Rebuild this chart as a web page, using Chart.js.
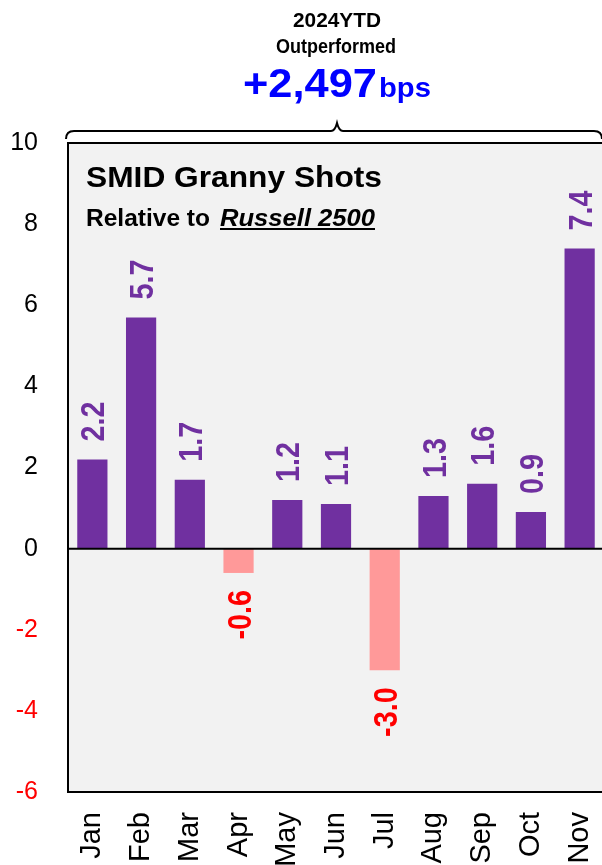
<!DOCTYPE html>
<html>
<head>
<meta charset="utf-8">
<script src="https://cdn.jsdelivr.net/npm/chart.js@4/dist/chart.umd.min.js"></script>
<style>
html,body{margin:0;padding:0;background:#fff;overflow:hidden;width:602px;height:865px;}
canvas{display:block;}
</style>
</head>
<body>
<canvas id="c" width="604" height="865"></canvas>
<script>
const months = ['Jan','Feb','Mar','Apr','May','Jun','Jul','Aug','Sep','Oct','Nov'];
const relativeReturn = [2.2, 5.7, 1.7, -0.6, 1.2, 1.1, -3.0, 1.3, 1.6, 0.9, 7.4];
const yTicks = [10, 8, 6, 4, 2, 0, -2, -4, -6];
const headline = ['2024YTD', 'Outperformed', '+2,497', 'bps'];
const chartTitle = 'SMID Granny Shots';
const subtitle = ['Relative to', 'Russell 2500'];

const PURPLE = '#7030A0', PINK = '#FF9999', RED = '#FF0000', BLUE = '#0000FF';
const SANS = '"Liberation Sans", Arial, sans-serif';

function fitText(ctx, txt, x, y, font, width, align, color) {
  ctx.save();
  ctx.font = font;
  ctx.fillStyle = color;
  const w = ctx.measureText(txt).width;
  ctx.translate(x, y);
  ctx.scale(width / w, 1);
  ctx.textAlign = align;
  ctx.textBaseline = 'alphabetic';
  ctx.fillText(txt, 0, 0);
  ctx.restore();
}

const decor = {
  id: 'decor',
  beforeDraw(chart) {
    const {ctx, chartArea: a} = chart;
    ctx.save();
    ctx.fillStyle = '#F2F2F2';
    ctx.fillRect(a.left, a.top, a.right - a.left, a.bottom - a.top);
    ctx.restore();
  },
  afterDatasetsDraw(chart) {
    const {ctx, chartArea: a, scales} = chart;
    const y0 = scales.y.getPixelForValue(0);
    ctx.save();
    ctx.strokeStyle = '#000';
    ctx.lineWidth = 2;
    ctx.beginPath();
    ctx.moveTo(a.left, y0); ctx.lineTo(a.right, y0);
    ctx.moveTo(a.left, a.top); ctx.lineTo(a.right, a.top);
    ctx.moveTo(a.left, a.bottom); ctx.lineTo(a.right, a.bottom);
    ctx.stroke();

    // brace
    const by = 131, tipX = 337;
    ctx.beginPath();
    ctx.moveTo(66, 139);
    ctx.quadraticCurveTo(66, by, 74, by);
    ctx.lineTo(tipX - 6, by);
    ctx.quadraticCurveTo(tipX - 2, by, tipX, 123);
    ctx.quadraticCurveTo(tipX + 2, by, tipX + 6, by);
    ctx.lineTo(594, by);
    ctx.quadraticCurveTo(602, by, 602, 139);
    ctx.stroke();
    ctx.restore();

    // headline texts
    fitText(ctx, headline[0], 337, 27, 'bold 20px ' + SANS, 88, 'center', '#000');
    fitText(ctx, headline[1], 336, 53, 'bold 20px ' + SANS, 120, 'center', '#000');
    fitText(ctx, headline[2], 243, 97, 'bold 40px ' + SANS, 134, 'left', BLUE);
    fitText(ctx, headline[3], 379, 97, 'bold 28px ' + SANS, 52, 'left', BLUE);

    // chart title
    fitText(ctx, chartTitle, 86, 187, 'bold 30px ' + SANS, 296, 'left', '#000');
    fitText(ctx, subtitle[0], 86, 226, 'bold 23px ' + SANS, 124, 'left', '#000');
    fitText(ctx, subtitle[1], 220, 226, 'italic bold 23px ' + SANS, 155, 'left', '#000');
    ctx.save();
    ctx.fillStyle = '#000';
    ctx.fillRect(220, 228, 155, 2);
    ctx.restore();

    // data labels
    const meta = chart.getDatasetMeta(0);
    const lf = 'bold 33px ' + SANS;
    ctx.save();
    ctx.font = lf;
    const k = 40 / ctx.measureText('2.2').width;
    ctx.restore();
    meta.data.forEach((bar, i) => {
      const v = relativeReturn[i];
      const txt = v.toFixed(1);
      const yEnd = scales.y.getPixelForValue(v);
      ctx.save();
      ctx.font = lf;
      ctx.fillStyle = v >= 0 ? PURPLE : RED;
      ctx.textBaseline = 'middle';
      ctx.translate(bar.x + 1, v >= 0 ? yEnd - 18 : yEnd + 17);
      ctx.rotate(-Math.PI / 2);
      ctx.scale(k, 1);
      ctx.textAlign = v >= 0 ? 'left' : 'right';
      ctx.fillText(txt, 0, 2);
      ctx.restore();
    });
  }
};

new Chart(document.getElementById('c'), {
  type: 'bar',
  data: {
    labels: months,
    datasets: [{
      data: relativeReturn,
      backgroundColor: relativeReturn.map(v => v >= 0 ? PURPLE : PINK),
      borderWidth: 0,
      barPercentage: 0.62,
      categoryPercentage: 1.0
    }]
  },
  options: {
    responsive: false,
    animation: false,
    devicePixelRatio: 1,
    layout: {padding: {top: 143, left: 0, right: 0, bottom: 0}},
    plugins: {legend: {display: false}, tooltip: {enabled: false}, title: {display: false}},
    scales: {
      x: {
        grid: {display: false, drawTicks: false},
        border: {display: false},
        ticks: {
          autoSkip: false, minRotation: 90, maxRotation: 90,
          color: '#000', padding: 20,
          font: {family: SANS, size: 29}
        },
        afterFit(s) { s.height = 73; s.paddingLeft = 0; s.paddingRight = 0; }
      },
      y: {
        min: -6, max: 10,
        afterBuildTicks(s) { s.ticks = yTicks.map(v => ({value: v})); },
        grid: {display: false, drawTicks: false},
        border: {display: true, color: '#000', width: 2},
        ticks: {
          color: c => (c.tick && c.tick.value < 0) ? RED : '#000',
          padding: 30,
          font: {family: SANS, size: 25}
        },
        afterFit(s) { s.width = 68; }
      }
    }
  },
  plugins: [decor]
});
</script>
</body>
</html>
